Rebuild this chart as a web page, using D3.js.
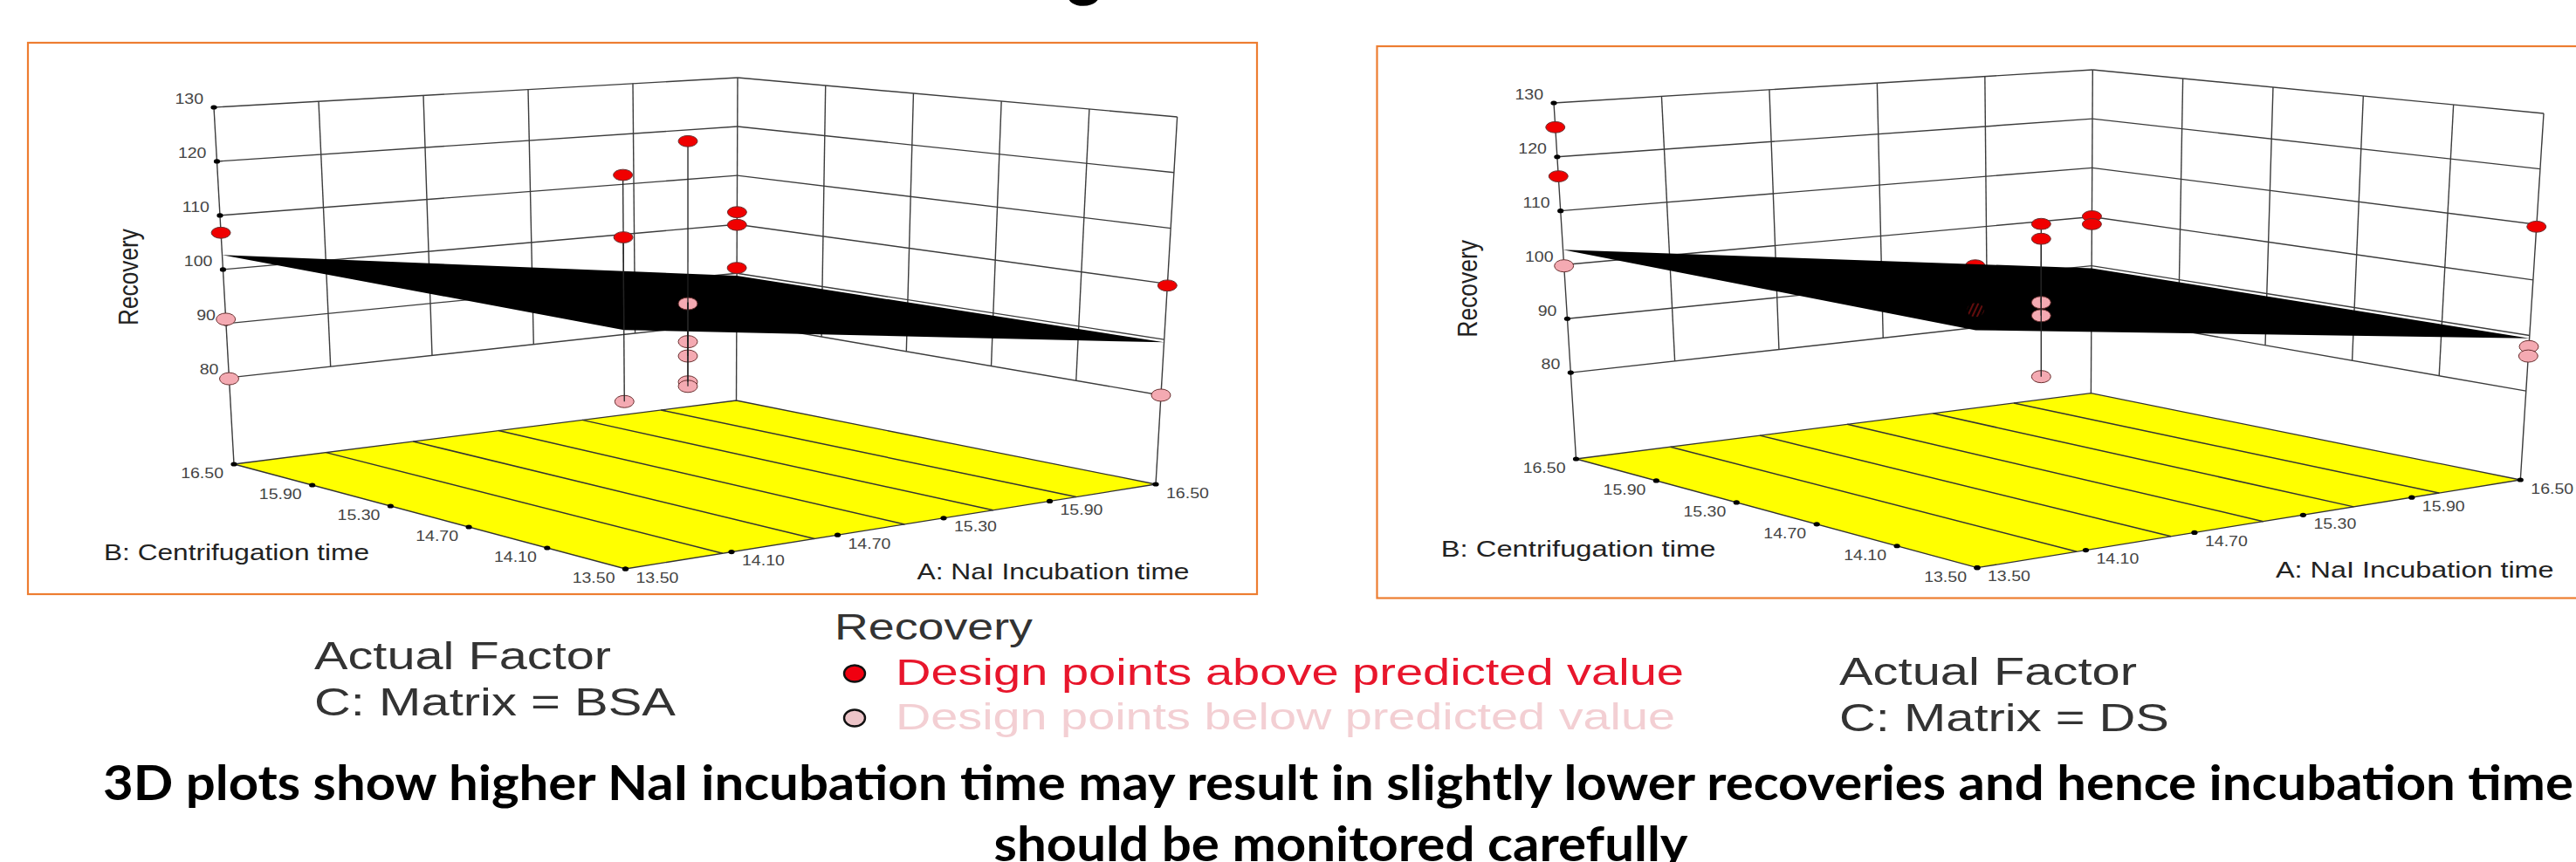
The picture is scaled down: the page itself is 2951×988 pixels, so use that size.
<!DOCTYPE html>
<html>
<head>
<meta charset="utf-8">
<script src="https://cdn.jsdelivr.net/npm/d3@7"></script>
<style>
  html, body { margin: 0; padding: 0; background: #fff; overflow: hidden; }
  text { font-family: "Liberation Sans", Arial, sans-serif; }
</style>
</head>
<body>
<div id="chart"></div>
<script>
// --- Data ---

const recoveryTicks = [80, 90, 100, 110, 120, 130];
const factorTicks = [13.5, 14.1, 14.7, 15.3, 15.9, 16.5];
const floorLines = [14.05, 14.57, 15.08, 15.58, 16.05];
const factorRange = [13.5, 16.5];
const floorRecovery = 64;

// predicted surface at A = 13.50 and A = 16.50, [A, B, recovery] for the points
const bsaPlane = [102.7, 89.5];
const bsaAbove = [[13.5, 16.5, 106.8], [13.5, 13.5, 127.8], [13.5, 13.5, 117.7], [15, 15, 125.4],
  [16.5, 16.5, 102.5], [16.5, 16.5, 99.9], [16.5, 16.5, 91.1], [16.5, 13.5, 99.7]];
const bsaBelow = [[13.5, 16.5, 90.8], [13.5, 16.5, 79.8], [13.5, 13.5, 91.1], [15, 15, 95.9], [15, 15, 89],
  [15, 15, 86.4], [15, 15, 81.7], [15, 15, 80.9], [16.5, 13.5, 80]];

const dsPlane = [102.8, 89.5];
const dsAbove = [[13.5, 16.5, 125.5], [13.5, 16.5, 116.4], [15, 15, 109.7], [15, 15, 107],
  [16.5, 16.5, 100.1], [16.5, 16.5, 98.5], [16.5, 13.5, 109.6]];
const dsBehind = [[13.5, 13.5, 113.4]];
const dsHatched = [[13.5, 13.5, 106.1]];
const dsBelow = [[13.5, 16.5, 99.8], [15, 15, 95.4], [15, 15, 93], [15, 15, 81.9], [16.5, 13.5, 88], [16.5, 13.5, 86.3]];

// --- Layout ---

const w = 2951;
const h = 988;
const orange = "#ed7d31";
const gridColor = "#3c3c3c";
const tickSize = 17;
const titleSize = 26.3;
const stretch = 1.2;
const tickStretch = 1.15;

const svg = d3.select("#chart").append("svg")
  .attr("width", w)
  .attr("height", h);

svg.append("defs").append("pattern")
  .attr("id", "hatch")
  .attr("width", 5)
  .attr("height", 5)
  .attr("patternUnits", "userSpaceOnUse")
  .attr("patternTransform", "rotate(25)")
  .append("line")
  .attr("x1", 1).attr("x2", 1).attr("y1", 0).attr("y2", 5)
  .attr("stroke", "#7a1010")
  .attr("stroke-width", 1.6);

const uScale = d3.scaleLinear().domain(factorRange).range([0, 1]);
const vScale = d3.scaleLinear().domain(factorRange).range([1, 0]);
const heightScale = d3.scaleLinear().domain([floorRecovery, recoveryTicks[recoveryTicks.length - 1]]).range([0, 1]);

function bilinear(q, u, v) {
  return [0, 1].map(i => (1 - u) * (1 - v) * q[0][i] + u * (1 - v) * q[1][i] + u * v * q[2][i] + (1 - u) * v * q[3][i]);
}

// Box corners go back-left, apex, right, front; ticks are evenly spaced along every edge
function makeProjection(c) {
  return function (A, B, R) {
    const u = uScale(A), v = vScale(B), t = heightScale(R);
    const base = bilinear(c.floor, u, v), top = bilinear(c.top, u, v);
    return [base[0] + (top[0] - base[0]) * t, base[1] + (top[1] - base[1]) * t];
  };
}

function putText(g, str, x, y, size, opts) {
  const o = opts || {};
  const sx = o.sx || 1;
  const t = g.append("text")
    .attr("transform", o.rotate
      ? "translate(" + x + "," + y + ") rotate(-90) scale(1," + stretch + ")"
      : "translate(" + x + "," + y + ") scale(" + sx + ",1)")
    .attr("font-size", size)
    .attr("fill", o.fill || "#222")
    .attr("text-anchor", o.anchor || "start")
    .text(str);
  if (o.length) t.attr("textLength", o.length / sx).attr("lengthAdjust", "spacingAndGlyphs");
  if (o.family) t.style("font-family", o.family);
  if (o.weight) t.attr("font-weight", o.weight);
  return t;
}

function drawPanel(c) {
  const g = svg.append("g");
  const project = makeProjection(c);
  const low = factorRange[0], high = factorRange[1];
  const planeScale = d3.scaleLinear().domain(factorRange).range(c.plane);
  const line = d3.line();

  function seg(a, b, color, width) {
    g.append("path")
      .attr("d", line([a, b]))
      .attr("fill", "none")
      .attr("stroke", color || gridColor)
      .attr("stroke-width", width || 1.4);
  }

  function dots(data, fill, rx, ry, stroke) {
    g.selectAll(null).data(data).enter().append("ellipse")
      .attr("cx", d => project(d[0], d[1], d[2])[0])
      .attr("cy", d => project(d[0], d[1], d[2])[1])
      .attr("rx", rx)
      .attr("ry", ry)
      .attr("fill", fill)
      .attr("stroke", stroke || "#6a3030")
      .attr("stroke-width", 1);
  }

  // Points on the wall edges already sit on a corner line, so only the others get a stem
  function stems(data) {
    data.filter(d => d[1] !== high && d[0] !== high)
      .forEach(d => seg(project(d[0], d[1], d[2]), project(d[0], d[1], planeScale(d[0])), "#222", 1.3));
  }

  // Frame
  g.append("rect")
    .attr("x", c.frame[0])
    .attr("y", c.frame[1])
    .attr("width", c.frame[2] - c.frame[0])
    .attr("height", c.frame[3] - c.frame[1])
    .attr("fill", "#fff")
    .attr("stroke", orange)
    .attr("stroke-width", 2.2);

  // Floor
  g.append("path")
    .attr("d", line([[low, high], [high, high], [high, low], [low, low]].map(p => project(p[0], p[1], floorRecovery))) + "Z")
    .attr("fill", "#ffff00")
    .attr("stroke", "#333")
    .attr("stroke-width", 1.3);
  floorLines.forEach(a => seg(project(a, high, floorRecovery), project(a, low, floorRecovery), "#333", 1.5));

  // Back walls
  const bottomGrid = recoveryTicks[0];
  const topGrid = recoveryTicks[recoveryTicks.length - 1];
  recoveryTicks.forEach(r => {
    seg(project(low, high, r), project(high, high, r));
    seg(project(high, high, r), project(high, low, r));
  });
  factorTicks.slice(1, -1).forEach(t => {
    seg(project(t, high, bottomGrid), project(t, high, topGrid));
    seg(project(high, t, bottomGrid), project(high, t, topGrid));
  });
  seg(project(low, high, floorRecovery), project(low, high, topGrid));
  seg(project(high, high, floorRecovery), project(high, high, topGrid));
  seg(project(high, low, floorRecovery), project(high, low, topGrid));

  // Tick dots and tick labels
  const tickDots = [];
  recoveryTicks.forEach(r => {
    const p = project(low, high, r);
    tickDots.push(p);
    putText(g, r, p[0] - 12, p[1] - 3.6, tickSize, { sx: tickStretch, anchor: "end", fill: "#444" });
  });
  factorTicks.forEach(t => {
    const pb = project(low, t, floorRecovery);
    const pa = project(t, low, floorRecovery);
    tickDots.push(pb, pa);
    putText(g, t.toFixed(2), pb[0] - 12, pb[1] + 16.4, tickSize, { sx: tickStretch, anchor: "end", fill: "#444" });
    putText(g, t.toFixed(2), pa[0] + 12, pa[1] + 15.6, tickSize, { sx: tickStretch, fill: "#444" });
  });
  g.selectAll(null).data(tickDots).enter().append("ellipse")
    .attr("cx", d => d[0])
    .attr("cy", d => d[1])
    .attr("rx", 3.6)
    .attr("ry", 2.6)
    .attr("fill", "#000");

  // A point the surface hides goes under it
  dots(c.behind, "#f00000", 11, 6.4);

  // Predicted surface
  g.append("path")
    .attr("d", line([[low, high], [high, high], [high, low], [low, low]]
      .map(p => project(p[0], p[1], planeScale(p[0])))) + "Z")
    .attr("fill", "#000");

  dots(c.below, "#f4aab2", 11, 7);
  stems(c.below);
  stems(c.above);
  dots(c.above, "#f00000", 11, 6.4);
  dots(c.hatched, "url(#hatch)", 10, 8, "none");

  // Axis titles
  putText(g, "Recovery", c.recovery[0], c.recovery[1], titleSize, { rotate: true, length: c.recovery[2] });
  putText(g, "B: Centrifugation time", c.titleB[0], c.titleB[1], titleSize, { sx: stretch, length: c.titleB[2] });
  putText(g, "A: NaI Incubation time", c.titleA[0], c.titleA[1], titleSize, { sx: stretch, length: c.titleA[2] });
}

drawPanel({
  frame: [32, 49, 1440, 681],
  floor: [[268, 532], [843.5, 459], [1324, 555], [716.5, 652]],
  top: [[245, 123], [845, 89], [1348.6, 134], [713.5, 185]],
  plane: bsaPlane,
  above: bsaAbove,
  below: bsaBelow,
  behind: [],
  hatched: [],
  recovery: [157.5, 373, 111],
  titleB: [119, 641.7, 304],
  titleA: [1050.5, 664, 312]
});

drawPanel({
  frame: [1577.5, 53, 2975, 685.5],
  floor: [[1805.5, 526], [2395.4, 450.7], [2887.3, 550], [2265, 650.7]],
  top: [[1780, 118], [2397.3, 80], [2914, 130], [2262, 187.7]],
  plane: dsPlane,
  above: dsAbove,
  below: dsBelow,
  behind: dsBehind,
  hatched: dsHatched,
  recovery: [1691.5, 386.7, 111.7],
  titleB: [1650.8, 638, 314.6],
  titleA: [2607, 661.7, 318.6]
});

// --- Legends and notes ---

const notes = svg.append("g");
putText(notes, "Actual Factor", 360, 767, 44, { length: 340, fill: "#333" });
putText(notes, "C: Matrix = BSA", 360, 820, 44, { length: 414, fill: "#333" });
putText(notes, "Actual Factor", 2107, 785, 44, { length: 341, fill: "#333" });
putText(notes, "C: Matrix = DS", 2107, 838, 44, { length: 378, fill: "#333" });
putText(notes, "Recovery", 956, 733, 42, { length: 227, fill: "#333" });
putText(notes, "Design points above predicted value", 1026, 785, 42, { length: 903, fill: "#e8162c" });
putText(notes, "Design points below predicted value", 1026, 836, 42, { length: 893, fill: "#f3cfd3" });

const legendRows = [{ cy: 772, fill: "#f00010" }, { cy: 823, fill: "#ecc4c8" }];
notes.selectAll("ellipse").data(legendRows).enter().append("ellipse")
  .attr("cx", 979)
  .attr("cy", d => d.cy)
  .attr("rx", 12)
  .attr("ry", 9.5)
  .attr("fill", d => d.fill)
  .attr("stroke", "#111")
  .attr("stroke-width", 2.4);

const captionFont = "Lato, 'Open Sans', sans-serif";
putText(notes, "3D plots show higher NaI incubation time may result in slightly lower recoveries and hence incubation time", 118, 917, 55,
  { length: 2830, family: captionFont, weight: "bold", fill: "#000" });
putText(notes, "should be monitored carefully", 1138.5, 987, 55,
  { length: 795, family: captionFont, weight: "bold", fill: "#000" });
// descender of the title that is cut off at the top edge
putText(notes, "g", 1222, -8, 76, { family: captionFont, weight: "bold", fill: "#000" });
</script>
</body>
</html>
